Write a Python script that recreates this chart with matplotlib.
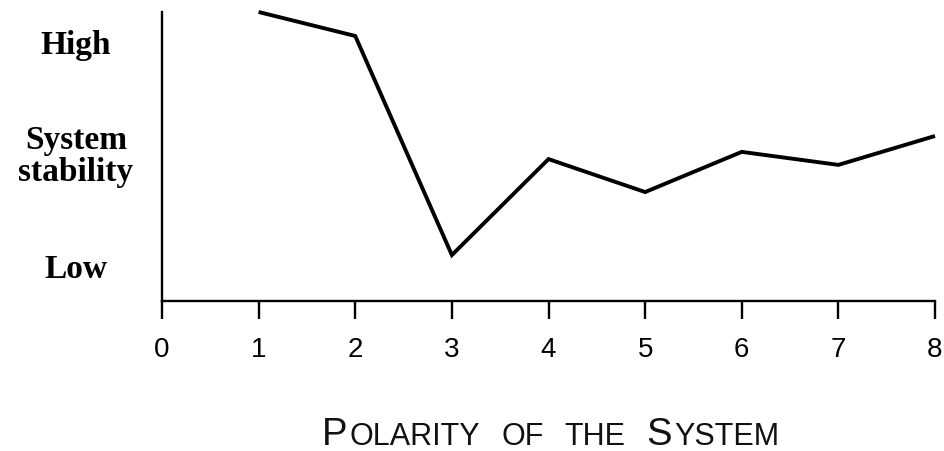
import matplotlib
matplotlib.use("Agg")
import matplotlib.pyplot as plt

# Data
polarity = [1, 2, 3, 4, 5, 6, 7, 8]
stability = [10.0, 9.17, 1.59, 4.91, 3.77, 5.16, 4.71, 5.71]
x_ticks = [0, 1, 2, 3, 4, 5, 6, 7, 8]
y_label_pos = [9.0, 5.19, 1.25]
y_labels = ["High", "System\nstability", "Low"]
title_runs = [("P", "big"), ("OLARITY", "small"), (" ", "gap"), ("OF", "small"),
              (" ", "gap"), ("THE", "small"), (" ", "gap"), ("S", "big"), ("YSTEM", "small")]

W, H, DPI = 945, 452, 100
fig = plt.figure(figsize=(W / DPI, H / DPI), dpi=DPI)
ax = fig.add_axes([162 / W, (H - 302) / H, (935 - 162) / W, (302 - 13) / H])

ax.plot(polarity, stability, color="black", lw=2.8, clip_on=False,
        solid_joinstyle="miter", solid_capstyle="butt")
ax.set_xlim(0, 8)
ax.set_ylim(0, 10)

for s in ("top", "right"):
    ax.spines[s].set_visible(False)
for s in ("left", "bottom"):
    ax.spines[s].set_linewidth(1.7)
    ax.spines[s].set_color("black")

ax.set_xticks(x_ticks)
ax.set_xticklabels([str(t) for t in x_ticks], family="Liberation Sans", fontsize=20)
ax.tick_params(axis="x", direction="out", length=13, width=1.7, pad=12, colors="black")

ax.set_yticks(y_label_pos)
ax.set_yticklabels(y_labels, family="Liberation Serif", fontweight="bold", fontsize=24,
                   ha="center", linespacing=1.05)
ax.tick_params(axis="y", length=0, pad=62)

# Small-caps title laid out run by run
renderer = fig.canvas.get_renderer()
sizes = {"big": 27.5, "small": 22, "gap": 22}
gap_px = 19
baseline_y = (H - 445) / H
texts = []
widths = []
for txt, kind in title_runs:
    if kind == "gap":
        texts.append(None)
        widths.append(gap_px)
        continue
    t = fig.text(0, baseline_y, txt, family="Liberation Sans", fontsize=sizes[kind],
                 va="baseline", ha="left", color="#111111")
    w = t.get_window_extent(renderer).width
    texts.append(t)
    widths.append(w + 2)
total = sum(widths)
center = (162 + 935) / 2 + 3
x = center - total / 2
for t, w in zip(texts, widths):
    if t is not None:
        t.set_x(x / W)
    x += w

fig.savefig("out.png", dpi=DPI, facecolor="white")
